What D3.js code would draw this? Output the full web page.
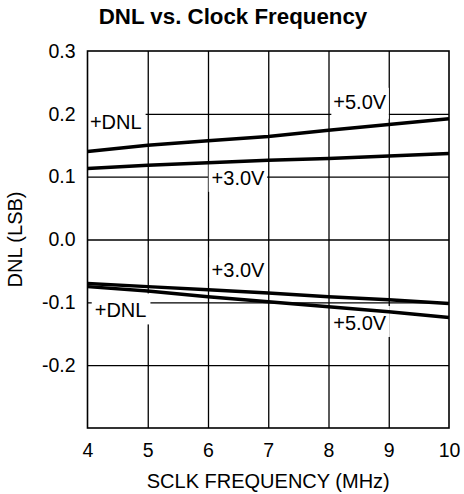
<!DOCTYPE html>
<html>
<head>
<meta charset="utf-8">
<script src="https://cdn.jsdelivr.net/npm/d3@7"></script>
<style>
  body { margin: 0; background: #fff; }
  svg { display: block; font-family: "Liberation Sans", Arial, sans-serif; }
</style>
</head>
<body>
<svg width="464" height="494"></svg>
<script>
const freq = [4, 5, 6, 7, 8, 9, 10];
const pos5V = [0.140, 0.150, 0.157, 0.164, 0.174, 0.183, 0.192];
const pos3V = [0.113, 0.118, 0.122, 0.126, 0.129, 0.133, 0.137];
const neg3V = [-0.070, -0.075, -0.080, -0.085, -0.091, -0.096, -0.102];
const neg5V = [-0.075, -0.082, -0.091, -0.099, -0.107, -0.115, -0.124];

const xTicks = [4, 5, 6, 7, 8, 9, 10];
const yTicks = [0.3, 0.2, 0.1, 0.0, -0.1, -0.2];
const xGrid = [5, 6, 7, 8, 9];
const yGrid = [0.2, 0.1, 0.0, -0.1, -0.2];

// curve labels: text, x (MHz), y (LSB) of baseline start
const labels = [
  { text: "+DNL", x: 4.04, y: 0.176, pad: [2, 4, 3, 3] },
  { text: "+5.0V", x: 8.08, y: 0.208, pad: [2, 2, 3, 6] },
  { text: "+3.0V", x: 6.06, y: 0.087, pad: [3, 2, 3, 3] },
  { text: "+3.0V", x: 6.06, y: -0.060, pad: [2, 2, 2, 2] },
  { text: "+DNL", x: 4.12, y: -0.124, pad: [3, 4, 6, 3] },
  { text: "+5.0V", x: 8.08, y: -0.144, pad: [2, 3, 6, 3] }
];

const margin = { top: 51, right: 15, bottom: 66, left: 87.5 };
const width = 464, height = 494;
const innerW = width - margin.left - margin.right;
const innerH = height - margin.top - margin.bottom;

const svg = d3.select("svg");
const g = svg.append("g").attr("transform", `translate(${margin.left},${margin.top})`);

const x = d3.scaleLinear().domain([4, 10]).range([0, innerW]);
const y = d3.scaleLinear().domain([-0.3, 0.3]).range([innerH, 0]);

// grid
g.append("g")
  .attr("transform", `translate(0,${innerH})`)
  .call(d3.axisBottom(x).tickValues(xGrid).tickSize(innerH).tickFormat(""))
  .call(a => a.select(".domain").remove())
  .call(a => a.selectAll("line").attr("transform", `translate(0,${-innerH})`)
    .attr("y1", 0).attr("y2", innerH).attr("stroke", "#000").attr("stroke-width", 1.3));

g.append("g")
  .call(d3.axisLeft(y).tickValues(yGrid).tickSize(-innerW).tickFormat(""))
  .call(a => a.select(".domain").remove())
  .call(a => a.selectAll("line").attr("stroke", "#000").attr("stroke-width", 1.3));

// label boxes (white, they break the grid)
const labG = g.append("g");
labels.forEach(d => {
  const t = labG.append("text")
    .attr("x", x(d.x)).attr("y", y(d.y))
    .attr("font-size", 20)
    .attr("fill", "#000")
    .text(d.text);
  const b = t.node().getBBox();
  labG.insert("rect", "text")
    .attr("x", b.x - d.pad[0]).attr("y", b.y - d.pad[2])
    .attr("width", b.width + d.pad[0] + d.pad[1])
    .attr("height", b.height + d.pad[2] + d.pad[3])
    .attr("fill", "#fff");
});

// border
g.append("rect")
  .attr("width", innerW).attr("height", innerH)
  .attr("fill", "none").attr("stroke", "#000").attr("stroke-width", 1.6);

// curves
const line = d3.line().x((d, i) => x(freq[i])).y(d => y(d));
[pos5V, pos3V, neg3V, neg5V].forEach(s => {
  g.append("path").datum(s)
    .attr("d", line)
    .attr("fill", "none")
    .attr("stroke", "#000")
    .attr("stroke-width", 3.5);
});

// tick labels
g.append("g")
  .attr("transform", `translate(0,${innerH})`)
  .call(d3.axisBottom(x).tickValues(xTicks).tickSize(0).tickPadding(15).tickFormat(d => d))
  .call(a => a.select(".domain").remove())
  .call(a => a.selectAll("text").attr("font-size", 19.5).attr("font-family", "Liberation Sans, Arial, sans-serif").attr("fill", "#000"));

g.append("g")
  .call(d3.axisLeft(y).tickValues(yTicks).tickSize(0).tickPadding(12).tickFormat(d => d.toFixed(1)))
  .call(a => a.select(".domain").remove())
  .call(a => a.selectAll("text").attr("font-size", 19.5).attr("font-family", "Liberation Sans, Arial, sans-serif").attr("fill", "#000"));

// titles
svg.append("text")
  .attr("x", 233).attr("y", 24)
  .attr("text-anchor", "middle")
  .attr("font-size", 22.3).attr("font-weight", "bold")
  .text("DNL vs. Clock Frequency");

svg.append("text")
  .attr("x", margin.left + innerW / 2).attr("y", 488)
  .attr("text-anchor", "middle")
  .attr("font-size", 20)
  .text("SCLK FREQUENCY (MHz)");

svg.append("text")
  .attr("transform", `translate(22,${margin.top + innerH / 2}) rotate(-90)`)
  .attr("text-anchor", "middle")
  .attr("font-size", 20)
  .text("DNL (LSB)");
</script>
</body>
</html>
